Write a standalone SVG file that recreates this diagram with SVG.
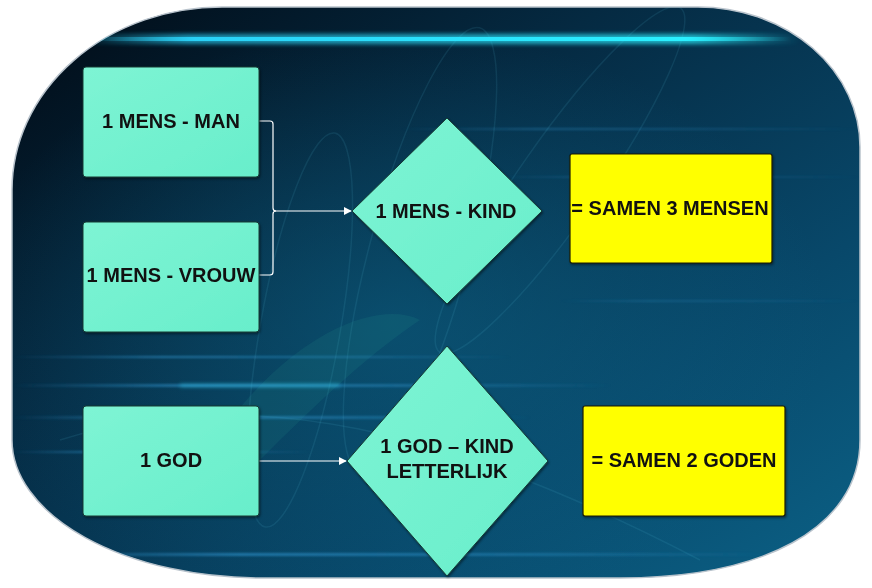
<svg xmlns="http://www.w3.org/2000/svg" width="872" height="588" viewBox="0 0 872 588">
<defs>
  <linearGradient id="bg" x1="0" y1="0" x2="1" y2="1">
    <stop offset="0" stop-color="#010a14"/>
    <stop offset="0.35" stop-color="#052a42"/>
    <stop offset="0.7" stop-color="#08486a"/>
    <stop offset="1" stop-color="#0b6186"/>
  </linearGradient>
  <radialGradient id="glow" cx="0.45" cy="0.55" r="0.5">
    <stop offset="0" stop-color="#0e6a8e" stop-opacity="0.45"/>
    <stop offset="1" stop-color="#0e6a8e" stop-opacity="0"/>
  </radialGradient>
  <linearGradient id="streak" x1="0" y1="0" x2="1" y2="0">
    <stop offset="0" stop-color="#2bd8ff" stop-opacity="0"/>
    <stop offset="0.15" stop-color="#2bd8ff" stop-opacity="0.9"/>
    <stop offset="0.85" stop-color="#2bf0ff" stop-opacity="1"/>
    <stop offset="1" stop-color="#2bf0ff" stop-opacity="0"/>
  </linearGradient>
  <linearGradient id="faint" x1="0" y1="0" x2="1" y2="0">
    <stop offset="0" stop-color="#3aa8e8" stop-opacity="0"/>
    <stop offset="0.3" stop-color="#3aa8e8" stop-opacity="0.5"/>
    <stop offset="0.7" stop-color="#3aa8e8" stop-opacity="0.3"/>
    <stop offset="1" stop-color="#3aa8e8" stop-opacity="0"/>
  </linearGradient>
  <linearGradient id="aqua" x1="0" y1="0" x2="1" y2="1">
    <stop offset="0" stop-color="#7ef4d4"/>
    <stop offset="1" stop-color="#68eecb"/>
  </linearGradient>
  <filter id="blur2" x="-5%" y="-200%" width="110%" height="500%">
    <feGaussianBlur stdDeviation="2"/>
  </filter>
  <filter id="blur1" x="-5%" y="-300%" width="110%" height="700%">
    <feGaussianBlur stdDeviation="0.8"/>
  </filter>
  <filter id="sh" x="-10%" y="-10%" width="125%" height="125%">
    <feDropShadow dx="1" dy="1.5" stdDeviation="1.2" flood-color="#000" flood-opacity="0.45"/>
  </filter>
  <clipPath id="frame">
    <path d="M12,190 A210,183 0 0 1 222,7 H698 A162,140 0 0 1 860,147 V440 C860,530 760,578 620,578 H262 A250,138 0 0 1 12,440 Z"/>
  </clipPath>
  <marker id="arr" viewBox="0 0 10 10" refX="9" refY="5" markerWidth="8" markerHeight="8" markerUnits="userSpaceOnUse" orient="auto">
    <path d="M0,0 L10,5 L0,10 Z" fill="#ffffff"/>
  </marker>
  <style>
    .box { fill: url(#aqua); stroke: #163a34; stroke-width: 1; filter: url(#sh); }
    .yel { fill: #ffff00; stroke: #1c1c00; stroke-width: 1.2; filter: url(#sh); }
    .lbl { font-family: "Liberation Sans", Arial, sans-serif; font-weight: bold; font-size: 20px; fill: #111111; text-anchor: middle; }
    .con { fill: none; stroke: #ffffff; stroke-width: 1.2; }
  </style>
</defs>

<rect width="872" height="588" fill="#ffffff"/>

<g id="background">
  <path d="M12,190 A210,183 0 0 1 222,7 H698 A162,140 0 0 1 860,147 V440 C860,530 760,578 620,578 H262 A250,138 0 0 1 12,440 Z" fill="url(#bg)" stroke="#b9c3cc" stroke-width="1.5"/>
  <g clip-path="url(#frame)">
    <rect x="0" y="0" width="872" height="588" fill="url(#glow)"/>
    <g fill="none" stroke="#5fc8e0" stroke-opacity="0.11" stroke-width="1.5">
      <ellipse cx="420" cy="250" rx="50" ry="230" transform="rotate(15 420 250)"/>
      <ellipse cx="300" cy="330" rx="40" ry="200" transform="rotate(10 300 330)"/>
      <ellipse cx="560" cy="180" rx="40" ry="210" transform="rotate(35 560 180)"/>
      <path d="M60,440 C250,380 450,430 700,560"/>
    </g>
    <path d="M230,420 C300,330 380,300 420,320 C360,360 300,420 250,470 Z" fill="#2fb89a" fill-opacity="0.1"/>
    <rect x="80" y="34" width="720" height="10" fill="url(#streak)" filter="url(#blur2)" opacity="0.7"/>
    <rect x="90" y="37" width="700" height="4" fill="url(#streak)"/>
    <g filter="url(#blur1)">
      <rect x="12" y="356" width="500" height="2" fill="url(#faint)"/>
      <rect x="12" y="384" width="600" height="3" fill="url(#faint)"/>
      <rect x="12" y="416" width="520" height="3" fill="url(#faint)"/>
      <rect x="12" y="451" width="300" height="2" fill="url(#faint)"/>
      <rect x="12" y="553" width="760" height="3" fill="url(#faint)"/>
      <rect x="400" y="128" width="460" height="2" fill="url(#faint)" opacity="0.6"/>
      <rect x="500" y="176" width="360" height="2" fill="url(#faint)" opacity="0.5"/>
      <rect x="560" y="300" width="300" height="2" fill="url(#faint)" opacity="0.4"/>
    </g>
    <rect x="180" y="384" width="160" height="3" fill="#3ee0ff" opacity="0.45" filter="url(#blur2)"/>
  </g>
</g>

<g id="connectors">
  <path class="con" d="M259,121 H270 Q273,121 273,124 V208 Q273,211 276,211 Q273,211 273,214 V272 Q273,275 270,275 H259"/>
  <path class="con" d="M274,211 H351" marker-end="url(#arr)"/>
  <path class="con" d="M259,461 H346" marker-end="url(#arr)"/>
</g>

<g id="node-man">
  <rect class="box" x="83" y="67" width="176" height="110" rx="3"/>
  <text class="lbl" x="171" y="128">1 MENS - MAN</text>
</g>
<g id="node-vrouw">
  <rect class="box" x="83" y="222" width="176" height="110" rx="3"/>
  <text class="lbl" x="171" y="282">1 MENS - VROUW</text>
</g>
<g id="node-god">
  <rect class="box" x="83" y="406" width="176" height="110" rx="3"/>
  <text class="lbl" x="171" y="467">1 GOD</text>
</g>
<g id="node-kind">
  <path class="box" d="M447,118 L542,211 L447,304 L352,211 Z" stroke-linejoin="round"/>
  <text class="lbl" x="446" y="218">1 MENS - KIND</text>
</g>
<g id="node-godkind">
  <path class="box" d="M447,346 L548,461 L447,576 L347,461 Z" stroke-linejoin="round"/>
  <text class="lbl" x="447" y="453">1 GOD – KIND</text>
  <text class="lbl" x="447" y="478">LETTERLIJK</text>
</g>
<g id="node-samen3">
  <rect class="yel" x="570" y="154" width="202" height="109" rx="2"/>
  <text class="lbl" x="670" y="215">= SAMEN 3 MENSEN</text>
</g>
<g id="node-samen2">
  <rect class="yel" x="583" y="406" width="202" height="110" rx="2"/>
  <text class="lbl" x="684" y="467">= SAMEN 2 GODEN</text>
</g>
</svg>
